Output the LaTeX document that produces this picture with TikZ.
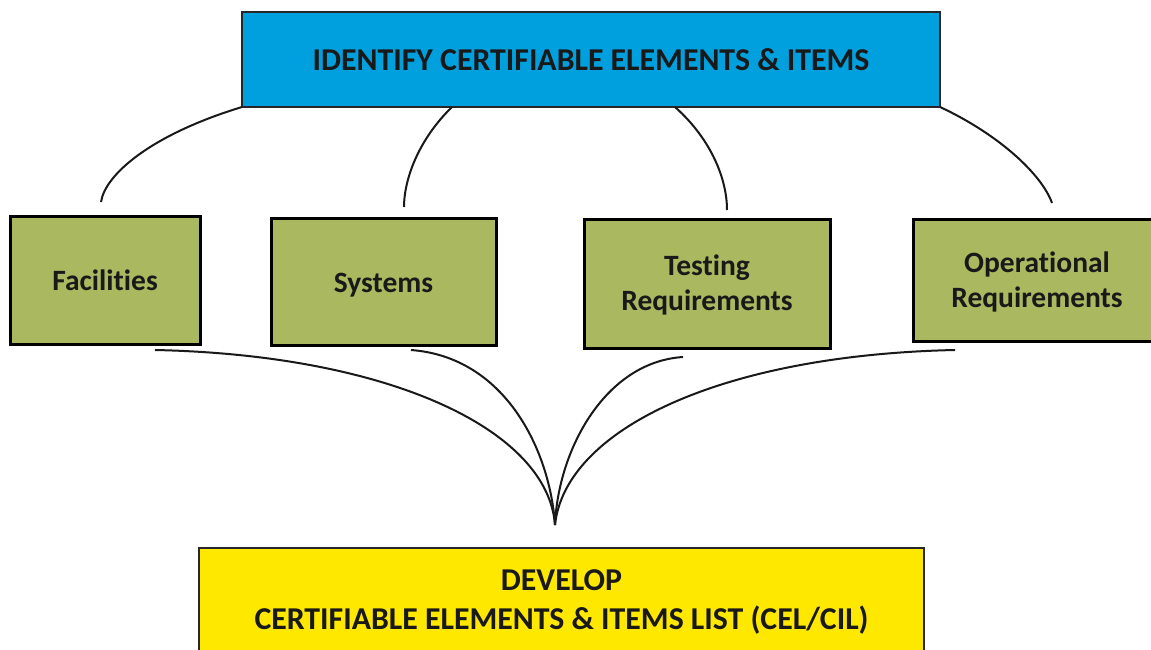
\documentclass[tikz,border=0pt]{standalone}
\usepackage{fontspec}
\setmainfont[Ligatures=NoCommon]{Carlito}
\definecolor{topblue}{RGB}{0,160,222}
\definecolor{boxgreen}{RGB}{170,184,96}
\definecolor{boxyellow}{RGB}{255,232,0}
\definecolor{txt}{RGB}{25,25,25}
\newcommand{\lowerby}[2]{\raisebox{-#1}[\height][\depth]{#2}}
\begin{document}
\begin{tikzpicture}[x=1pt,y=-1pt,
  topbox/.style={draw=black!85,line width=2pt,fill=topblue,inner sep=0pt,text=txt,font=\bfseries\fontsize{31.8}{36}\selectfont},
  greenbox/.style={draw=black,line width=3pt,fill=boxgreen,inner sep=0pt,align=center,text=txt,font=\bfseries\fontsize{29.5}{35}\selectfont},
  yellowbox/.style={draw=black!85,line width=2pt,fill=boxyellow,inner sep=0pt},
  devfont/.style={align=center,text=txt,font=\bfseries\fontsize{31.8}{39}\selectfont},
  link/.style={draw=black!90,line width=2pt}]
\useasboundingbox (0,0) rectangle (1151,650);
\clip (0,0) rectangle (1151,650);
\fill[white] (0,0) rectangle (1151,650);

\node[topbox,minimum width=698pt,minimum height=95pt] (top) at (591,59.5) {IDENTIFY CERTIFIABLE ELEMENTS \& ITEMS};

\node[greenbox,minimum width=190pt,minimum height=128pt] (fac) at (105,280) {Facilities};
\node[greenbox,minimum width=225pt,minimum height=127pt] (sys) at (383.5,281.5) {\lowerby{4pt}{Systems}};
\node[greenbox,minimum width=246pt,minimum height=129pt] (test) at (707,283.5) {\lowerby{2.5pt}{\begin{tabular}{@{}c@{}}Testing\\Requirements\end{tabular}}};
\node[greenbox,minimum width=248pt,minimum height=122pt] (oper) at (1037,280) {\lowerby{3pt}{\begin{tabular}{@{}c@{}}Operational\\Requirements\end{tabular}}};

\node[yellowbox,minimum width=725pt,minimum height=130pt,anchor=north] (dev) at (561.5,547) {};
\node[devfont] (devtext) at (561.5,602) {DEVELOP\\CERTIFIABLE ELEMENTS \& ITEMS LIST (CEL/CIL)};

% free ends
\coordinate (t1) at (242,107);
\coordinate (t2) at (452,107);
\coordinate (t3) at (675,107);
\coordinate (t4) at (940,107);
\coordinate (f1) at (101,202);
\coordinate (f2) at (404,207);
\coordinate (f3) at (727,210);
\coordinate (f4) at (1052,203);
\coordinate (b1) at (155,350);
\coordinate (b2) at (411,350);
\coordinate (b3) at (683,357);
\coordinate (b4) at (955,350);
\coordinate (m) at (555,525);

\draw[link] (t1) .. controls (150,135) and (105,175) .. (f1);
\draw[link] (t2) .. controls (418,140) and (404,180) .. (f2);
\draw[link] (t3) .. controls (712,140) and (727,180) .. (f3);
\draw[link] (t4) .. controls (1000,135) and (1042,175) .. (f4);

\draw[link] (b1) .. controls (390,355) and (548,430) .. (m);
\draw[link] (b2) .. controls (505,357) and (550,450) .. (m);
\draw[link] (b3) .. controls (605,362) and (558,450) .. (m);
\draw[link] (b4) .. controls (720,355) and (565,430) .. (m);
\end{tikzpicture}
\end{document}
